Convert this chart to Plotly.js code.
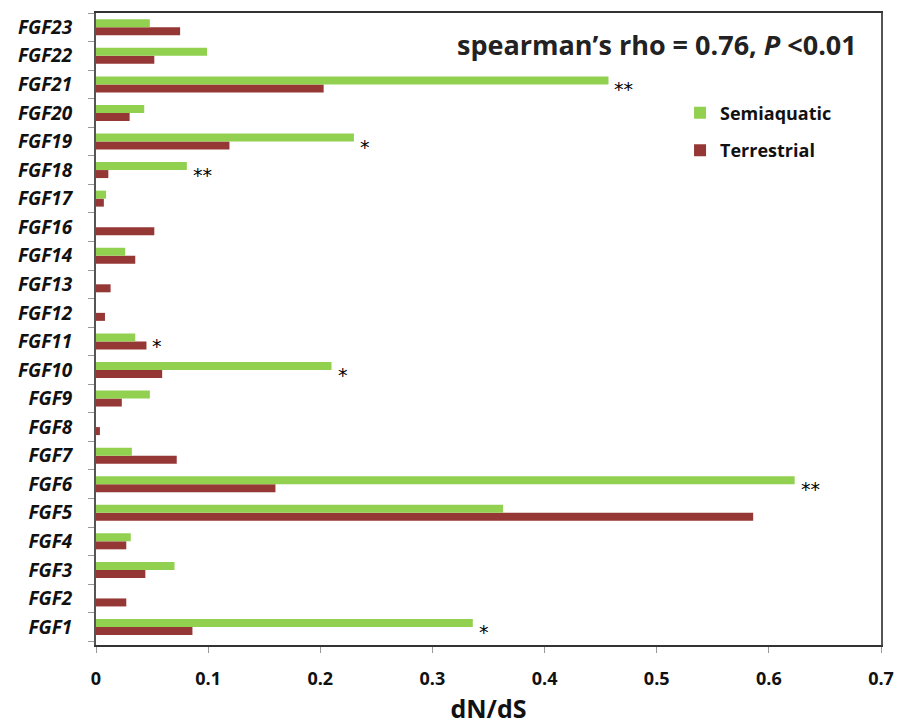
<!DOCTYPE html>
<html>
<head>
<meta charset="utf-8">
<script src="https://cdn.plot.ly/plotly-3.0.1.min.js"></script>
<style>html,body{margin:0;padding:0;background:#fff;}#chart{width:909px;height:725px;}</style>
</head>
<body>
<div id="chart"></div>
<script>
var genes = ["FGF1","FGF2","FGF3","FGF4","FGF5","FGF6","FGF7","FGF8","FGF9","FGF10","FGF11","FGF12","FGF13","FGF14","FGF16","FGF17","FGF18","FGF19","FGF20","FGF21","FGF22","FGF23"];
var semiaquatic = [0.336,0,0.070,0.031,0.363,0.623,0.032,0,0.048,0.210,0.035,0,0,0.026,0,0.009,0.081,0.230,0.043,0.457,0.099,0.048];
var terrestrial = [0.086,0.027,0.044,0.027,0.586,0.160,0.072,0.0035,0.023,0.059,0.045,0.008,0.013,0.035,0.052,0.007,0.011,0.119,0.030,0.203,0.052,0.075];
var significance = ["*","","","","","**","","","","*","*","","","","","","**","*","","**","",""];
var xTicks = [0,0.1,0.2,0.3,0.4,0.5,0.6,0.7];

var traces = [
  {type:"bar", orientation:"h", name:"Terrestrial", y:genes, x:terrestrial,
   marker:{color:"#953735"}, legendgroup:"t", legendrank:2, hoverinfo:"x+y"},
  {type:"bar", orientation:"h", name:"Semiaquatic", y:genes, x:semiaquatic,
   marker:{color:"#92D050"}, legendgroup:"s", legendrank:1, hoverinfo:"x+y"}
];

var annotations = [];
genes.forEach(function(g,i){
  if(significance[i]){
    annotations.push({x:Math.max(semiaquatic[i],terrestrial[i]), y:g, xref:"x", yref:"y",
      text:significance[i], showarrow:false, xanchor:"left", yanchor:"middle", xshift:4, yshift:-5,
      font:{family:"DejaVu Sans", size:19, color:"#000"}});
  }
});
annotations.push({xref:"paper", yref:"paper", x:0.972, y:0.95, xanchor:"right", yanchor:"middle",
  text:"spearman\u2019s rho = 0.76, <i>P</i> &lt;0.01", showarrow:false,
  font:{family:"Open Sans, sans-serif", size:27, color:"#222", weight:"bold"}});

var layout = {
  width:909, height:725,
  margin:{l:96, r:28, t:13, b:80},
  paper_bgcolor:"#fff", plot_bgcolor:"#fff",
  barmode:"group", bargap:0.44, bargroupgap:0,
  showlegend:true,
  legend:{x:0.744, y:0.871, xanchor:"left", yanchor:"top", traceorder:"grouped", tracegroupgap:11,
    font:{family:"Open Sans, sans-serif", size:18, color:"#111", weight:"bold"}, bgcolor:"rgba(0,0,0,0)"},
  xaxis:{range:[0,0.7], tickvals:xTicks, ticktext:xTicks.map(String), showgrid:false, zeroline:false,
    showline:true, linecolor:"#333", linewidth:2, mirror:true, ticks:"outside", ticklen:6, tickcolor:"#999",
    tickfont:{family:"Open Sans, sans-serif", size:18, color:"#111", weight:"bold"}, ticklabelstandoff:10,
    title:{text:"dN/dS", font:{family:"Open Sans, sans-serif", size:25, color:"#111", weight:"bold"}, standoff:15}},
  yaxis:{type:"category", categoryorder:"array", categoryarray:genes, showgrid:false, zeroline:false,
    showline:true, linecolor:"#555", linewidth:2, mirror:true, ticks:"outside", tickson:"boundaries", ticklen:6, tickcolor:"#999",
    tickfont:{family:"Open Sans, sans-serif", size:19, color:"#111", weight:"bold", style:"italic"}, ticklabelstandoff:18},
  annotations:annotations
};

Plotly.newPlot("chart", traces, layout, {displayModeBar:false, staticPlot:true});
</script>
</body>
</html>
